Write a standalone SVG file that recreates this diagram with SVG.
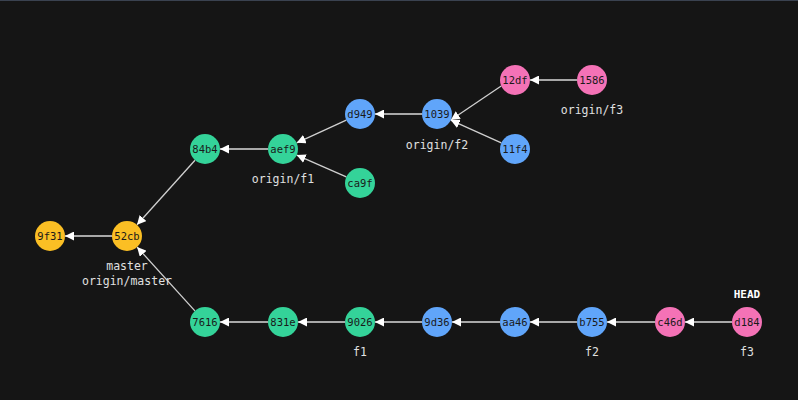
<svg xmlns="http://www.w3.org/2000/svg" width="798" height="400" viewBox="0 0 798 400">
<defs>
<marker id="arr" viewBox="0 0 10 10" refX="10" refY="5" markerWidth="9" markerHeight="9" markerUnits="userSpaceOnUse" orient="auto">
<path d="M0,0 L10,5 L0,10 z" fill="#ffffff"/>
</marker>
<style>
.e{stroke:#d0d0d0;stroke-width:1.3;fill:none;marker-end:url(#arr)}
.h{stroke:#a8a8a8;stroke-width:2}
.y{fill:#fbbf24}.g{fill:#34d399}.b{fill:#60a5fa}.p{fill:#f472b6}
.n text{font-family:"DejaVu Sans Mono","Liberation Mono",monospace;font-size:10.5px;fill:#1a1a1a;text-anchor:middle;dominant-baseline:central}
.l{font-family:"DejaVu Sans Mono","Liberation Mono",monospace;font-size:11.5px;fill:#e0e0e0;text-anchor:middle}
.hd{font-family:"DejaVu Sans Mono","Liberation Mono",monospace;font-size:11px;font-weight:bold;fill:#ffffff;text-anchor:middle}
</style>
</defs>
<rect width="798" height="400" fill="#151515"/>
<rect width="798" height="1" fill="#3a4250"/>
<g id="connectors">
<line class="e h" x1="112" y1="236" x2="65" y2="236"/>
<line class="e" x1="195" y1="160.2" x2="137" y2="224.8"/>
<line class="e" x1="194.9" y1="310.9" x2="137.1" y2="247.1"/>
<line class="e h" x1="268" y1="149" x2="220" y2="149"/>
<line class="e" x1="346.3" y1="120.2" x2="296.7" y2="142.8"/>
<line class="e" x1="346.3" y1="176.9" x2="296.7" y2="155.1"/>
<line class="e h" x1="422" y1="114" x2="375" y2="114"/>
<line class="e" x1="501.2" y1="86" x2="450.8" y2="120"/>
<line class="e" x1="501.3" y1="142.9" x2="450.7" y2="120.1"/>
<line class="e h" x1="577" y1="80" x2="530" y2="80"/>
<line class="e h" x1="268" y1="322" x2="220" y2="322"/>
<line class="e h" x1="345" y1="322" x2="298" y2="322"/>
<line class="e h" x1="422" y1="322" x2="375" y2="322"/>
<line class="e h" x1="500" y1="322" x2="452" y2="322"/>
<line class="e h" x1="577" y1="322" x2="530" y2="322"/>
<line class="e h" x1="655" y1="322" x2="607" y2="322"/>
<line class="e h" x1="732" y1="322" x2="685" y2="322"/>
</g>
<g id="n9f31" class="n"><circle class="y" cx="50" cy="236" r="15"/><text x="50" y="236">9f31</text></g>
<g id="n52cb" class="n"><circle class="y" cx="127" cy="236" r="15"/><text x="127" y="236">52cb</text></g>
<g id="n84b4" class="n"><circle class="g" cx="205" cy="149" r="15"/><text x="205" y="149">84b4</text></g>
<g id="naef9" class="n"><circle class="g" cx="283" cy="149" r="15"/><text x="283" y="149">aef9</text></g>
<g id="nca9f" class="n"><circle class="g" cx="360" cy="183" r="15"/><text x="360" y="183">ca9f</text></g>
<g id="nd949" class="n"><circle class="b" cx="360" cy="114" r="15"/><text x="360" y="114">d949</text></g>
<g id="n1039" class="n"><circle class="b" cx="437" cy="114" r="15"/><text x="437" y="114">1039</text></g>
<g id="n11f4" class="n"><circle class="b" cx="515" cy="149" r="15"/><text x="515" y="149">11f4</text></g>
<g id="n12df" class="n"><circle class="p" cx="515" cy="80" r="15"/><text x="515" y="80">12df</text></g>
<g id="n1586" class="n"><circle class="p" cx="592" cy="80" r="15"/><text x="592" y="80">1586</text></g>
<g id="n7616" class="n"><circle class="g" cx="205" cy="322" r="15"/><text x="205" y="322">7616</text></g>
<g id="n831e" class="n"><circle class="g" cx="283" cy="322" r="15"/><text x="283" y="322">831e</text></g>
<g id="n9026" class="n"><circle class="g" cx="360" cy="322" r="15"/><text x="360" y="322">9026</text></g>
<g id="n9d36" class="n"><circle class="b" cx="437" cy="322" r="15"/><text x="437" y="322">9d36</text></g>
<g id="naa46" class="n"><circle class="b" cx="515" cy="322" r="15"/><text x="515" y="322">aa46</text></g>
<g id="nb755" class="n"><circle class="b" cx="592" cy="322" r="15"/><text x="592" y="322">b755</text></g>
<g id="nc46d" class="n"><circle class="p" cx="670" cy="322" r="15"/><text x="670" y="322">c46d</text></g>
<g id="nd184" class="n"><circle class="p" cx="747" cy="322" r="15"/><text x="747" y="322">d184</text></g>
<g id="labels">
<text class="l" x="127" y="270">master</text>
<text class="l" x="127" y="285">origin/master</text>
<text class="l" x="283" y="183">origin/f1</text>
<text class="l" x="437" y="149">origin/f2</text>
<text class="l" x="592" y="114">origin/f3</text>
<text class="l" x="360" y="356">f1</text>
<text class="l" x="592" y="356">f2</text>
<text class="l" x="747" y="356">f3</text>
<text class="hd" x="747" y="298">HEAD</text>
</g>
</svg>
